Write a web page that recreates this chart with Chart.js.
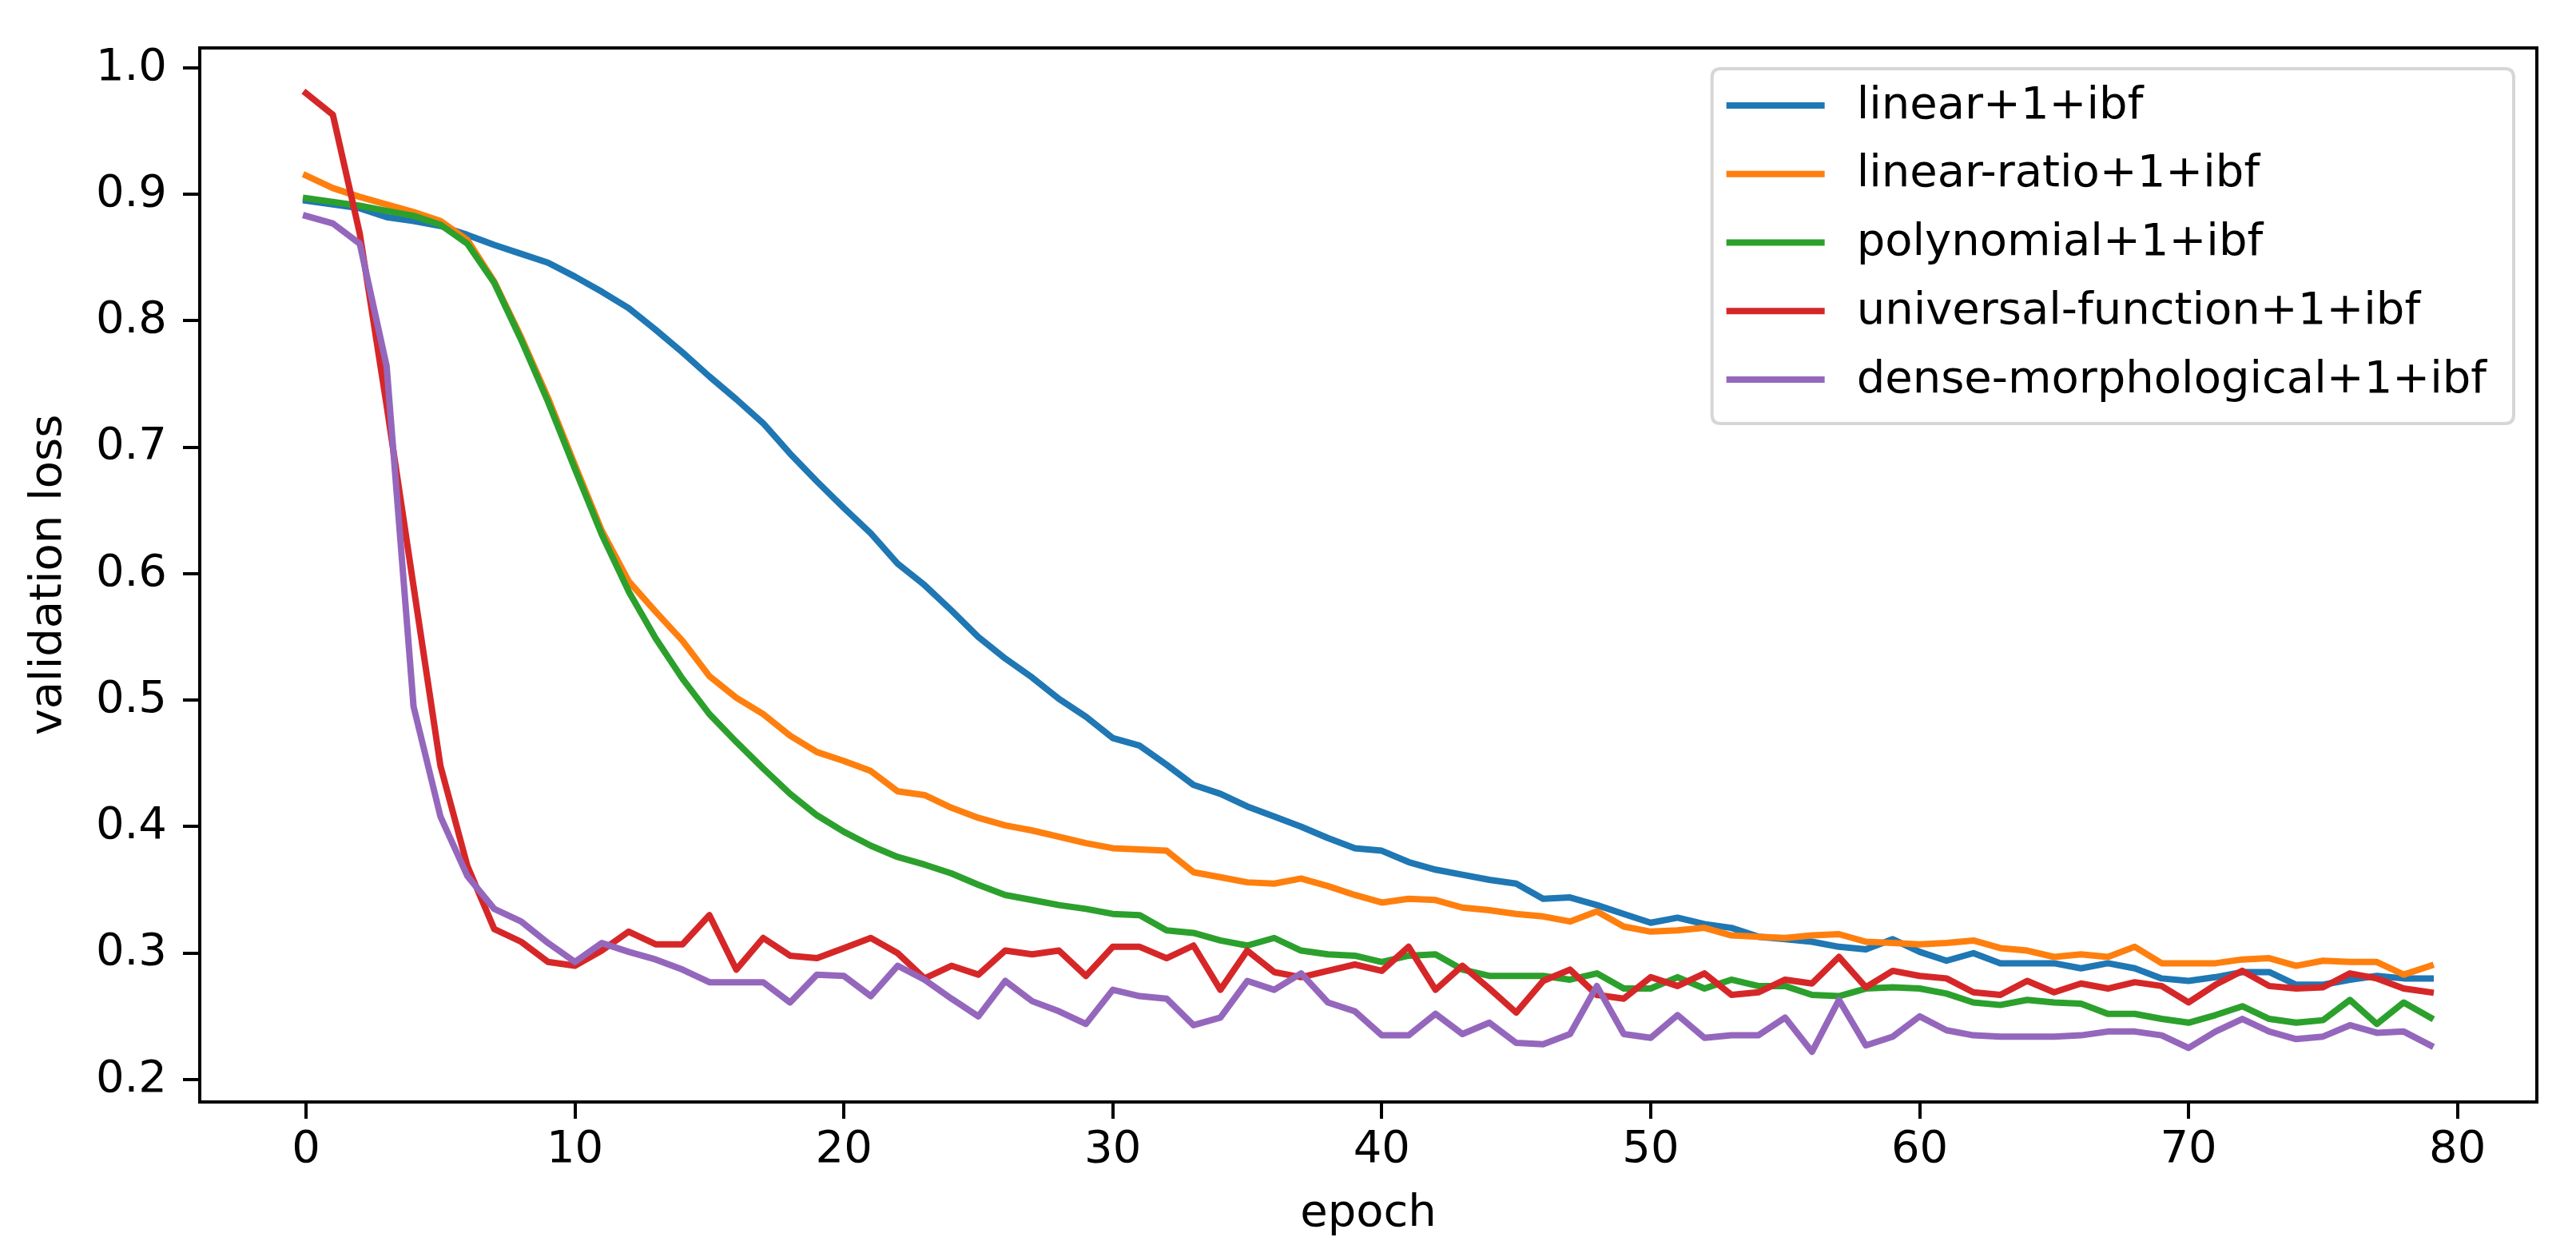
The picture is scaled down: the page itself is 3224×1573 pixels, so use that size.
<!DOCTYPE html>
<html><head><meta charset="utf-8">
<script src="https://cdn.jsdelivr.net/npm/chart.js@4"></script>
<style>html,body{margin:0;padding:0;background:#fff;overflow:hidden}canvas{display:block}</style>
</head><body>
<canvas id="c" width="3224" height="1573" style="width:3224px;height:1573px"></canvas>
<script>
// ---- data ----
const epochs = [0,1,2,3,4,5,6,7,8,9,10,11,12,13,14,15,16,17,18,19,20,21,22,23,24,25,26,27,28,29,30,31,32,33,34,35,36,37,38,39,40,41,42,43,44,45,46,47,48,49,50,51,52,53,54,55,56,57,58,59,60,61,62,63,64,65,66,67,68,69,70,71,72,73,74,75,76,77,78,79];
const seriesNames = ['linear+1+ibf','linear-ratio+1+ibf','polynomial+1+ibf','universal-function+1+ibf','dense-morphological+1+ibf'];
const seriesColors = ['#1f77b4','#ff7f0e','#2ca02c','#d62728','#9467bd'];
const linearLoss = [0.895,0.892,0.889,0.882,0.879,0.875,0.868,0.860,0.853,0.846,
  0.835,0.823,0.810,0.793,0.775,0.756,0.738,0.719,0.695,0.673,
  0.652,0.632,0.608,0.591,0.571,0.550,0.533,0.518,0.501,0.487,
  0.470,0.464,0.449,0.433,0.426,0.416,0.408,0.400,0.391,0.383,
  0.381,0.372,0.366,0.362,0.358,0.355,0.343,0.344,0.338,0.331,
  0.324,0.328,0.323,0.320,0.313,0.311,0.309,0.305,0.303,0.311,
  0.301,0.294,0.300,0.292,0.292,0.292,0.288,0.292,0.288,0.280,
  0.278,0.281,0.285,0.285,0.275,0.275,0.279,0.282,0.280,0.280];
const linearRatioLoss = [0.915,0.905,0.898,0.892,0.886,0.879,0.864,0.831,0.787,0.739,
  0.686,0.634,0.594,0.570,0.547,0.519,0.502,0.489,0.472,0.459,
  0.452,0.444,0.428,0.425,0.415,0.407,0.401,0.397,0.392,0.387,
  0.383,0.382,0.381,0.364,0.360,0.356,0.355,0.359,0.353,0.346,
  0.340,0.343,0.342,0.336,0.334,0.331,0.329,0.325,0.333,0.321,
  0.317,0.318,0.320,0.314,0.313,0.312,0.314,0.315,0.309,0.308,
  0.307,0.308,0.310,0.304,0.302,0.297,0.299,0.297,0.305,0.292,
  0.292,0.292,0.295,0.296,0.290,0.294,0.293,0.293,0.283,0.290];
const polynomialLoss = [0.897,0.894,0.891,0.887,0.883,0.876,0.861,0.830,0.785,0.736,
  0.683,0.631,0.586,0.549,0.517,0.489,0.467,0.446,0.426,0.409,
  0.396,0.385,0.376,0.370,0.363,0.354,0.346,0.342,0.338,0.335,
  0.331,0.330,0.318,0.316,0.310,0.306,0.312,0.302,0.299,0.298,
  0.293,0.298,0.299,0.287,0.282,0.282,0.282,0.279,0.284,0.272,
  0.272,0.281,0.272,0.279,0.274,0.274,0.267,0.266,0.272,0.273,
  0.272,0.268,0.261,0.259,0.263,0.261,0.260,0.252,0.252,0.248,
  0.245,0.251,0.258,0.248,0.245,0.247,0.263,0.244,0.261,0.249];
const universalLoss = [0.980,0.963,0.869,0.733,0.590,0.448,0.369,0.319,0.309,0.293,
  0.290,0.302,0.317,0.307,0.307,0.330,0.287,0.312,0.298,0.296,
  0.304,0.312,0.300,0.280,0.290,0.283,0.302,0.299,0.302,0.282,
  0.305,0.305,0.296,0.306,0.271,0.302,0.285,0.281,0.286,0.291,
  0.286,0.305,0.271,0.290,0.272,0.253,0.278,0.287,0.267,0.264,
  0.281,0.274,0.284,0.267,0.269,0.279,0.276,0.297,0.273,0.286,
  0.282,0.280,0.269,0.267,0.278,0.269,0.276,0.272,0.277,0.274,
  0.261,0.275,0.286,0.274,0.272,0.273,0.284,0.280,0.272,0.269];
const denseMorphLoss = [0.883,0.877,0.861,0.764,0.495,0.408,0.361,0.335,0.325,0.308,
  0.293,0.308,0.301,0.295,0.287,0.277,0.277,0.277,0.261,0.283,
  0.282,0.266,0.290,0.279,0.264,0.250,0.278,0.262,0.254,0.244,
  0.271,0.266,0.264,0.243,0.249,0.278,0.271,0.284,0.261,0.254,
  0.235,0.235,0.252,0.236,0.245,0.229,0.228,0.236,0.274,0.236,
  0.233,0.251,0.233,0.235,0.235,0.249,0.222,0.263,0.227,0.234,
  0.250,0.239,0.235,0.234,0.234,0.234,0.235,0.238,0.238,0.235,
  0.225,0.238,0.248,0.238,0.232,0.234,0.243,0.237,0.238,0.227];
const xTickValues = [0,10,20,30,40,50,60,70,80];
const xTickLabels = ['0','10','20','30','40','50','60','70','80'];
const yTickValues = [0.2,0.3,0.4,0.5,0.6,0.7,0.8,0.9,1.0];
const yTickLabels = ['0.2','0.3','0.4','0.5','0.6','0.7','0.8','0.9','1.0'];
const xTitle = 'epoch';
const yTitle = 'validation loss';
const seriesValues = [linearLoss, linearRatioLoss, polynomialLoss, universalLoss, denseMorphLoss];

// ---- style ----
const FONT = 'DejaVu Sans';
const FS = 56;
const LW = 8;
const SPINE = 4;

const framePlugin = {
  id: 'frame',
  afterDatasetsDraw(chart) {
    const {ctx, chartArea: a} = chart;
    ctx.save();
    ctx.strokeStyle = '#000';
    ctx.lineWidth = SPINE;
    ctx.lineCap = 'square';
    ctx.beginPath();
    ctx.moveTo(a.left, a.top); ctx.lineTo(a.right, a.top); ctx.lineTo(a.right, a.bottom);
    ctx.stroke();
    ctx.restore();
  },
  afterDraw(chart) {
    const {ctx, chartArea: a} = chart;
    const ds = chart.data.datasets;
    ctx.save();
    ctx.font = FS + 'px "' + FONT + '"';
    let maxW = 0;
    ds.forEach(d => { maxW = Math.max(maxW, ctx.measureText(d.label).width); });
    const padL = 18, handle = 123, gap = 40, padR = 34;
    const w = padL + handle + gap + maxW + padR;
    const rowH = 85.75, h = 444;
    const right = a.right - 29, top = a.top + 26, left = right - w;
    const r = 11;
    ctx.beginPath();
    ctx.moveTo(left + r, top);
    ctx.lineTo(right - r, top); ctx.quadraticCurveTo(right, top, right, top + r);
    ctx.lineTo(right, top + h - r); ctx.quadraticCurveTo(right, top + h, right - r, top + h);
    ctx.lineTo(left + r, top + h); ctx.quadraticCurveTo(left, top + h, left, top + h - r);
    ctx.lineTo(left, top + r); ctx.quadraticCurveTo(left, top, left + r, top);
    ctx.closePath();
    ctx.fillStyle = 'rgba(255,255,255,0.8)';
    ctx.fill();
    ctx.strokeStyle = 'rgba(204,204,204,0.8)';
    ctx.lineWidth = 4;
    ctx.stroke();
    ds.forEach((d, i) => {
      const y = top + 46 + i * rowH;
      ctx.strokeStyle = d.borderColor;
      ctx.lineWidth = LW;
      ctx.lineCap = 'butt';
      ctx.beginPath();
      ctx.moveTo(left + padL, y); ctx.lineTo(left + padL + handle, y);
      ctx.stroke();
      ctx.fillStyle = '#000';
      ctx.textBaseline = 'middle';
      ctx.textAlign = 'left';
      ctx.fillText(d.label, left + padL + handle + gap, y + 1);
    });
    ctx.restore();
  }
};

const datasets = seriesNames.map((name, i) => ({
  label: name,
  data: seriesValues[i],
  borderColor: seriesColors[i],
  backgroundColor: seriesColors[i],
  borderWidth: LW,
  pointRadius: 0,
  tension: 0,
  fill: false,
  borderJoinStyle: 'round',
  borderCapStyle: 'square',
  order: seriesNames.length - i
}));

new Chart(document.getElementById('c'), {
  type: 'line',
  data: { labels: epochs, datasets },
  plugins: [framePlugin],
  options: {
    responsive: false,
    animation: false,
    devicePixelRatio: 1,
    layout: { padding: { top: 60, right: 49, left: 0, bottom: 0 } },
    plugins: { legend: { display: false }, tooltip: { enabled: false } },
    scales: {
      x: {
        type: 'linear',
        min: -3.95, max: 82.95,
        afterBuildTicks: s => { s.ticks = xTickValues.map(v => ({ value: v })); },
        afterFit: s => { s.height = 194; },
        ticks: {
          autoSkip: false, maxRotation: 0, minRotation: 0,
          color: '#000', padding: 6,
          font: { family: FONT, size: FS, lineHeight: 1.2 },
          callback: (v, i) => xTickLabels[i]
        },
        grid: { drawOnChartArea: false, drawTicks: true, tickLength: 21, color: '#000', lineWidth: SPINE },
        border: { display: true, color: '#000', width: SPINE },
        title: { display: true, text: xTitle, color: '#000', font: { family: FONT, size: FS, lineHeight: 1.2 }, padding: { top: 0, bottom: 20 } }
      },
      y: {
        type: 'linear',
        min: 0.1823, max: 1.0158,
        afterBuildTicks: s => { s.ticks = yTickValues.map(v => ({ value: v })); },
        afterFit: s => { s.width = 250; },
        ticks: {
          autoSkip: false, color: '#000', padding: 20,
          font: { family: FONT, size: FS, lineHeight: 1.2 },
          callback: (v, i) => yTickLabels[i]
        },
        grid: { drawOnChartArea: false, drawTicks: true, tickLength: 21, color: '#000', lineWidth: SPINE },
        border: { display: true, color: '#000', width: SPINE },
        title: { display: true, text: yTitle, color: '#000', font: { family: FONT, size: FS, lineHeight: 1.2 }, padding: { top: 28, bottom: 0 } }
      }
    }
  }
});
</script>
</body></html>
